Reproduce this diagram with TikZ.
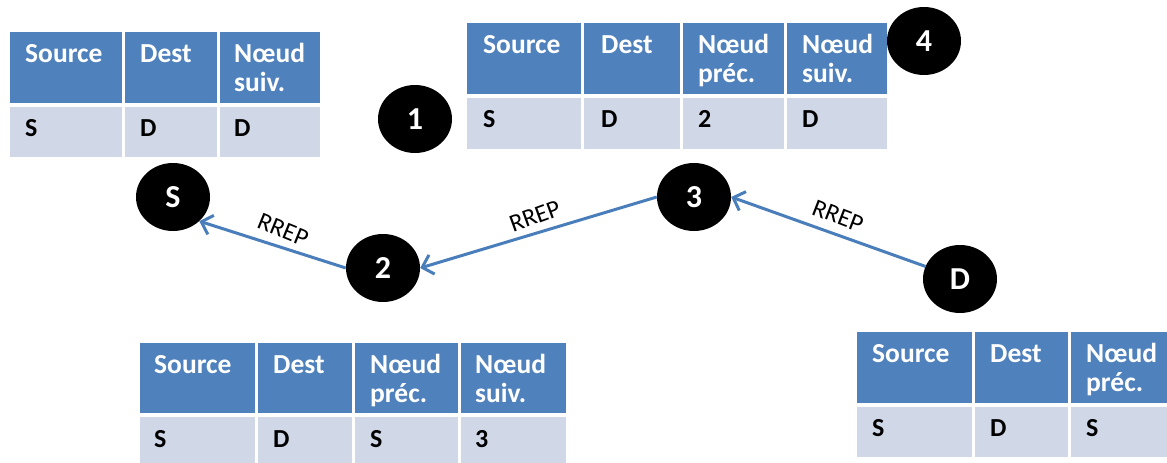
\documentclass[tikz,border=0pt]{standalone}
\usepackage{fontspec}
\setmainfont{Carlito}
\usetikzlibrary{shapes.geometric,arrows.meta}
\definecolor{hdr}{HTML}{4F81BD}
\definecolor{rowc}{HTML}{D0D8E8}
\definecolor{arr}{HTML}{4A7EBB}
\begin{document}
\begin{tikzpicture}[x=1pt,y=-1pt,
  hcell/.style={fill=hdr},
  dcell/.style={fill=rowc},
  htext/.style={anchor=base west, inner sep=0pt, text=white, font=\fontsize{27.5}{29}\selectfont\bfseries},
  dtext/.style={anchor=base west, inner sep=0pt, text=black, font=\fontsize{26}{28}\selectfont\bfseries},
  nd/.style={ellipse, fill=black, minimum width=74pt, minimum height=68pt, inner sep=0pt, text=white, font=\fontsize{32}{34}\selectfont\bfseries},
  link/.style={draw=arr, line width=3pt, -{Straight Barb[length=10pt,width=20pt]}},
  lbl/.style={font=\fontsize{25}{27}\selectfont, inner sep=0pt, text=black}]
\useasboundingbox (0,0) rectangle (1167,463);
\fill[white] (0,0) rectangle (1167,463);

% ---------- Table 1 (top left)
\fill[hcell] (10,32) rectangle (122,103);
\fill[hcell] (125,32) rectangle (217,103);
\fill[hcell] (220,32) rectangle (320,103);
\fill[dcell] (10,107) rectangle (122,157);
\fill[dcell] (125,107) rectangle (217,157);
\fill[dcell] (220,107) rectangle (320,157);
\node[htext] (t1h1) at (25,62) {Source};
\node[htext] (t1h2) at (140,62) {Dest};
\node[htext] (t1h3a) at (234,62) {Nœud};
\node[htext] (t1h3b) at (234,91) {suiv.};
\node[dtext] (t1d1) at (25,136) {S};
\node[dtext] (t1d2) at (140,136) {D};
\node[dtext] (t1d3) at (234,136) {D};

% ---------- Table 2 (top middle)
\fill[hcell] (467,23) rectangle (581,94);
\fill[hcell] (584,23) rectangle (680,94);
\fill[hcell] (683,23) rectangle (784,94);
\fill[hcell] (787,23) rectangle (887,94);
\fill[dcell] (467,98) rectangle (581,149);
\fill[dcell] (584,98) rectangle (680,149);
\fill[dcell] (683,98) rectangle (784,149);
\fill[dcell] (787,98) rectangle (887,149);
\node[htext] (t2h1) at (483,53) {Source};
\node[htext] (t2h2) at (601,53) {Dest};
\node[htext] (t2h3a) at (698,53) {Nœud};
\node[htext] (t2h3b) at (698,82) {préc.};
\node[htext] (t2h4a) at (802,53) {Nœud};
\node[htext] (t2h4b) at (802,82) {suiv.};
\node[dtext] (t2d1) at (483,127) {S};
\node[dtext] (t2d2) at (601,127) {D};
\node[dtext] (t2d3) at (698,127) {2};
\node[dtext] (t2d4) at (802,127) {D};

% ---------- Table 3 (bottom left)
\fill[hcell] (140,343) rectangle (255,413);
\fill[hcell] (258,343) rectangle (352,413);
\fill[hcell] (355,343) rectangle (458,413);
\fill[hcell] (461,343) rectangle (566,413);
\fill[dcell] (140,417) rectangle (255,470);
\fill[dcell] (258,417) rectangle (352,470);
\fill[dcell] (355,417) rectangle (458,470);
\fill[dcell] (461,417) rectangle (566,470);
\node[htext] (t3h1) at (154,373) {Source};
\node[htext] (t3h2) at (273,373) {Dest};
\node[htext] (t3h3a) at (370,373) {Nœud};
\node[htext] (t3h3b) at (370,402) {préc.};
\node[htext] (t3h4a) at (475,373) {Nœud};
\node[htext] (t3h4b) at (475,402) {suiv.};
\node[dtext] (t3d1) at (154,447) {S};
\node[dtext] (t3d2) at (273,447) {D};
\node[dtext] (t3d3) at (370,447) {S};
\node[dtext] (t3d4) at (475,447) {3};

% ---------- Table 4 (bottom right)
\fill[hcell] (857,332) rectangle (972,403);
\fill[hcell] (975,332) rectangle (1068,403);
\fill[hcell] (1071,332) rectangle (1175,403);
\fill[dcell] (857,407) rectangle (972,457);
\fill[dcell] (975,407) rectangle (1068,457);
\fill[dcell] (1071,407) rectangle (1175,457);
\node[htext] (t4h1) at (872,362) {Source};
\node[htext] (t4h2) at (990,362) {Dest};
\node[htext] (t4h3a) at (1086,362) {Nœud};
\node[htext] (t4h3b) at (1086,391) {préc.};
\node[dtext] (t4d1) at (872,436) {S};
\node[dtext] (t4d2) at (990,436) {D};
\node[dtext] (t4d3) at (1086,436) {S};

% ---------- Nodes
\node[nd] (S) at (173,197) {S};
\node[nd] (n2) at (383,268) {2};
\node[nd] (n3) at (694,197) {3};
\node[nd] (D) at (960,279) {D};
\node[nd] (n1) at (415,119) {1};
\node[nd] (n4) at (924,41) {4};

% ---------- Links
\draw[link] (n2.west) -- (S.south east);
\draw[link] (n3.west) -- (n2.east);
\draw[link] (D.160) -- (n3.east);

\node[lbl, rotate=-22] (l1) at (283,230) {RREP};
\node[lbl, rotate=20] (l2) at (535,216) {RREP};
\node[lbl, rotate=-21] (l3) at (838,216) {RREP};
\end{tikzpicture}
\end{document}
